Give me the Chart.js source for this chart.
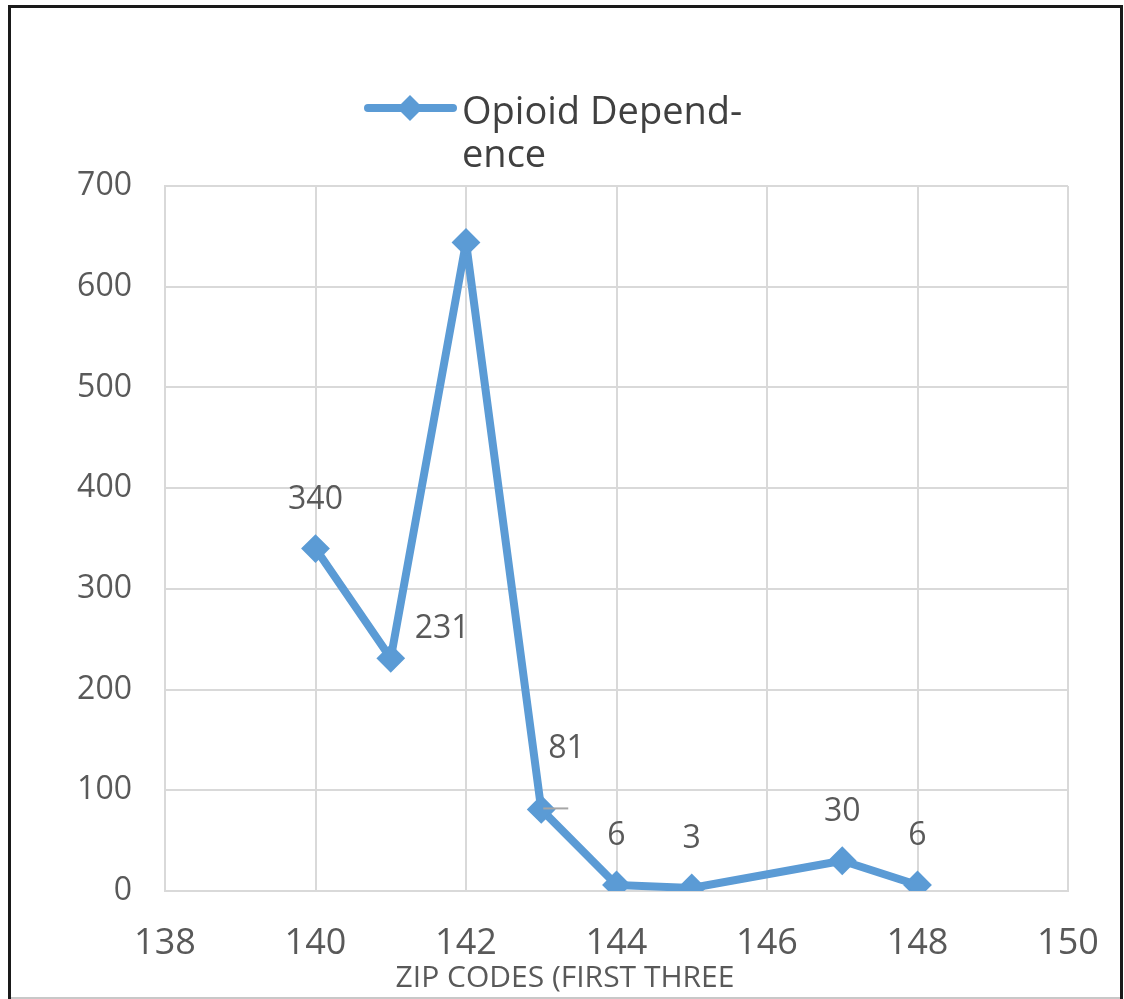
<!DOCTYPE html>
<html>
<head>
<meta charset="utf-8">
<title>Opioid Dependence by ZIP code prefix</title>
<script src="https://cdn.jsdelivr.net/npm/chart.js@4/dist/chart.umd.min.js"></script>
<style>
  html, body { margin: 0; padding: 0; background: #ffffff; }
  #wrap { position: relative; width: 1124px; height: 999px; }
  canvas { display: block; }
</style>
</head>
<body>
<div id="wrap"><canvas id="chart" width="1124" height="999"></canvas></div>
<script>
// ZIP code prefixes (first three digits) and counts
const zipPrefixes = [140, 141, 142, 143, 144, 145, 147, 148];
const opioidCounts = [340, 231, 644, 81, 6, 3, 30, 6];
const xTickValues = [138, 140, 142, 144, 146, 148, 150];
const yTickValues = [0, 100, 200, 300, 400, 500, 600, 700];
const seriesName = ['Opioid Depend-', 'ence'];
const xAxisTitle = 'ZIP CODES (FIRST THREE';

// where each value label sits relative to its marker
const labelPlacement = ['above', 'right', 'none', 'aboveRight', 'above', 'above', 'above', 'above'];

const BLUE = '#5b9bd5';
const GRID = '#d9d9d9';
const TEXT = '#595959';
const FONT = "'Open Sans', 'Noto Sans', sans-serif";

const points = zipPrefixes.map((x, i) => ({ x: x, y: opioidCounts[i] }));

// draws the white page, frame, legend, axis title and value labels
const decorations = {
  id: 'decorations',
  beforeDraw(chart) {
    const ctx = chart.ctx;
    ctx.save();
    ctx.fillStyle = '#ffffff';
    ctx.fillRect(0, 0, chart.width, chart.height);
    ctx.restore();
  },
  afterDatasetsDraw(chart) {
    const ctx = chart.ctx;
    const meta = chart.getDatasetMeta(0);
    ctx.save();
    ctx.font = '32px ' + FONT;
    ctx.fillStyle = TEXT;
    ctx.textBaseline = 'alphabetic';
    meta.data.forEach((pt, i) => {
      const mode = labelPlacement[i];
      const txt = String(opioidCounts[i]);
      if (mode === 'above') {
        ctx.textAlign = 'center';
        ctx.fillText(txt, pt.x, pt.y - 40);
      } else if (mode === 'right') {
        ctx.textAlign = 'left';
        ctx.fillText(txt, pt.x + 24, pt.y - 20);
      } else if (mode === 'aboveRight') {
        ctx.textAlign = 'left';
        ctx.fillText(txt, pt.x + 7, pt.y - 51);
        // short leader line beside the marker
        ctx.strokeStyle = '#a6a6a6';
        ctx.lineWidth = 2;
        ctx.beginPath();
        ctx.moveTo(pt.x + 2, pt.y - 1);
        ctx.lineTo(pt.x + 27, pt.y - 1);
        ctx.stroke();
      }
    });
    ctx.restore();
  },
  afterDraw(chart) {
    const ctx = chart.ctx;
    ctx.save();

    // legend: line with diamond marker and wrapped series name
    ctx.strokeStyle = BLUE;
    ctx.lineWidth = 8;
    ctx.lineCap = 'round';
    ctx.beginPath();
    ctx.moveTo(368, 108);
    ctx.lineTo(453, 108);
    ctx.stroke();
    ctx.fillStyle = BLUE;
    ctx.beginPath();
    ctx.moveTo(410, 95); ctx.lineTo(423, 108); ctx.lineTo(410, 121); ctx.lineTo(397, 108);
    ctx.closePath();
    ctx.fill();
    ctx.fillStyle = '#404040';
    ctx.font = '38px ' + FONT;
    ctx.textAlign = 'left';
    ctx.textBaseline = 'alphabetic';
    ctx.fillText(seriesName[0], 462, 124);
    ctx.fillText(seriesName[1], 462, 167);

    // x axis title
    ctx.fillStyle = TEXT;
    ctx.font = '30px ' + FONT;
    ctx.textAlign = 'center';
    ctx.fillText(xAxisTitle, 565, 987);

    // outer frame
    ctx.strokeStyle = '#1a1a1a';
    ctx.lineWidth = 3;
    ctx.lineCap = 'butt';
    ctx.beginPath();
    ctx.moveTo(9.5, 999);
    ctx.lineTo(9.5, 6.5);
    ctx.lineTo(1121.5, 6.5);
    ctx.lineTo(1121.5, 999);
    ctx.stroke();
    ctx.strokeStyle = '#c8c8c8';
    ctx.lineWidth = 2;
    ctx.beginPath();
    ctx.moveTo(11, 998);
    ctx.lineTo(1120, 998);
    ctx.stroke();
    ctx.restore();
  }
};

new Chart(document.getElementById('chart'), {
  type: 'line',
  data: {
    datasets: [{
      label: seriesName.join(''),
      data: points,
      borderColor: BLUE,
      backgroundColor: BLUE,
      borderWidth: 8,
      tension: 0,
      pointStyle: 'rectRot',
      pointRadius: 13,
      pointBorderWidth: 2,
      pointBackgroundColor: BLUE,
      pointBorderColor: BLUE,
      borderJoinStyle: 'round'
    }]
  },
  options: {
    responsive: false,
    animation: false,
    devicePixelRatio: 1,
    layout: { padding: { left: 0, top: 186, right: 56, bottom: 0 } },
    plugins: {
      legend: { display: false },
      tooltip: { enabled: false },
      title: { display: false }
    },
    scales: {
      x: {
        type: 'linear',
        min: xTickValues[0],
        max: xTickValues[xTickValues.length - 1],
        afterBuildTicks(scale) { scale.ticks = xTickValues.map(v => ({ value: v })); },
        afterFit(scale) {
          scale.height = 108;
          scale.paddingLeft = 0;
          scale.paddingRight = 0;
        },
        grid: { color: GRID, lineWidth: 2, drawTicks: false },
        border: { color: GRID, width: 2 },
        ticks: {
          color: TEXT,
          font: { family: FONT, size: 36 },
          padding: 31,
          maxRotation: 0,
          autoSkip: false
        }
      },
      y: {
        type: 'linear',
        min: yTickValues[0],
        max: yTickValues[yTickValues.length - 1],
        afterBuildTicks(scale) { scale.ticks = yTickValues.map(v => ({ value: v })); },
        afterFit(scale) {
          scale.width = 165;
          scale.paddingTop = 0;
          scale.paddingBottom = 0;
        },
        grid: { color: GRID, lineWidth: 2, drawTicks: false },
        border: { color: GRID, width: 2 },
        ticks: {
          color: TEXT,
          font: { family: FONT, size: 32 },
          padding: 33
        }
      }
    }
  },
  plugins: [decorations]
});
</script>
</body>
</html>
